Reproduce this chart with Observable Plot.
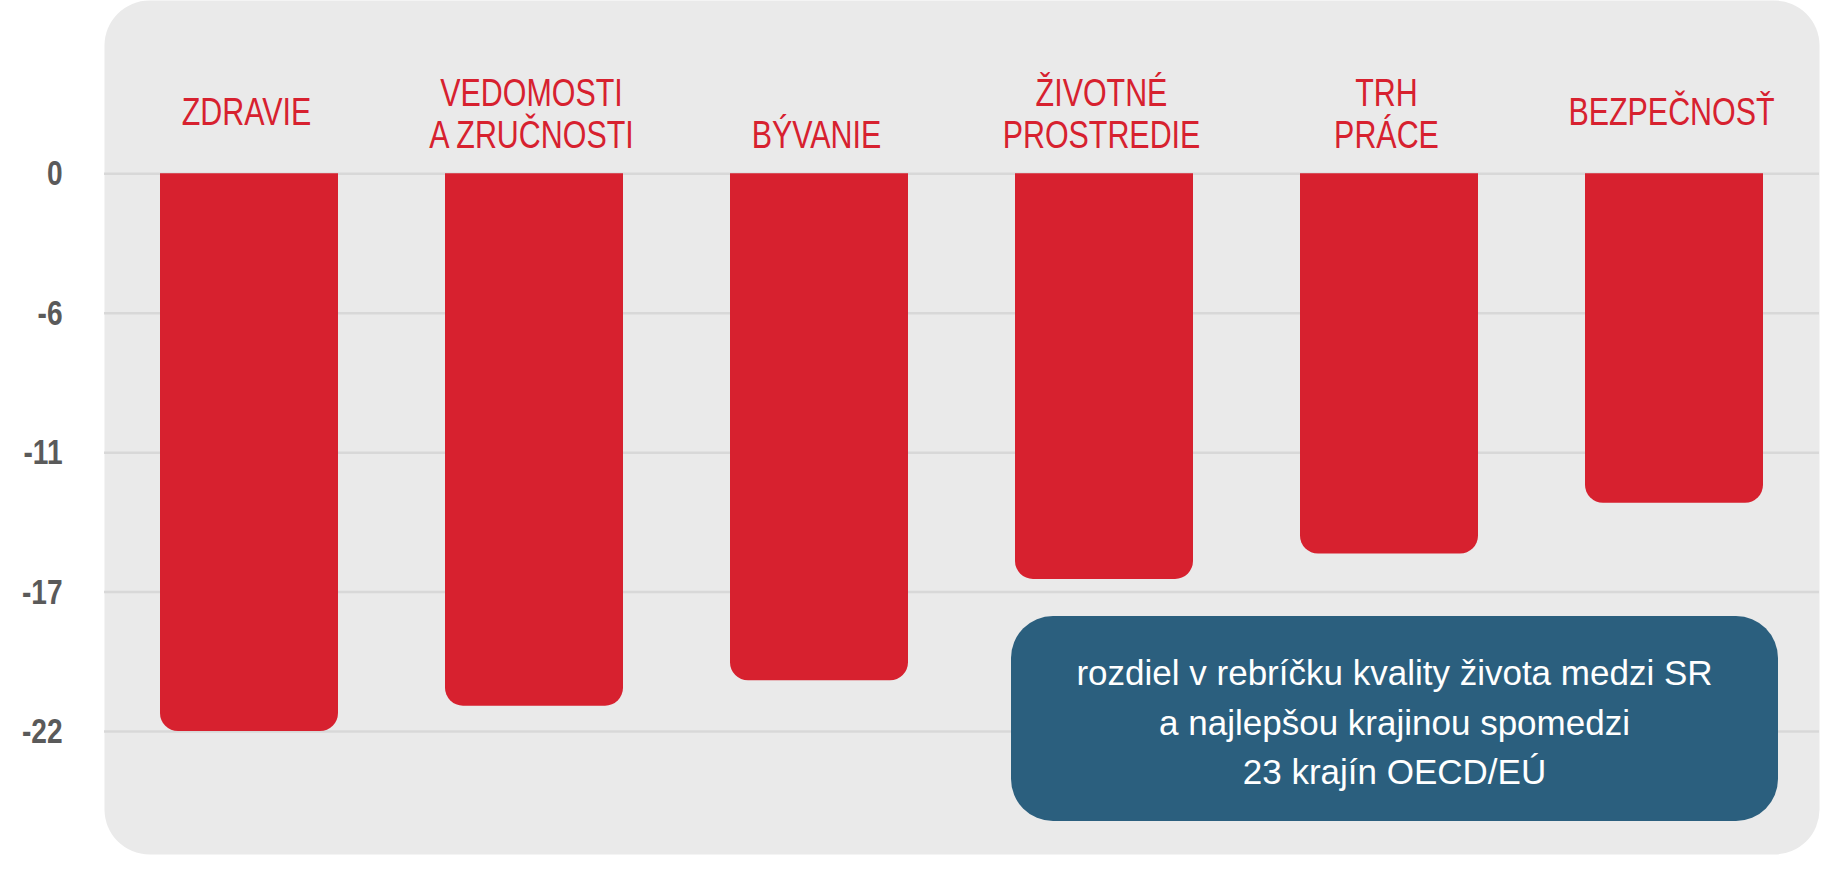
<!DOCTYPE html>
<html>
<head>
<meta charset="utf-8">
<script src="https://cdn.jsdelivr.net/npm/d3@7"></script>
<script src="https://cdn.jsdelivr.net/npm/@observablehq/plot@0.6"></script>
<style>
  body { margin: 0; background: #ffffff; }
  #wrap { position: relative; width: 1822px; height: 882px; }
  #note {
    position: absolute; left: 1011px; top: 616px; width: 767px; height: 205px;
    border-radius: 42px; background: #2b5f7e; color: #ffffff;
    font-family: 'Liberation Sans', Arial, sans-serif;
    font-size: 35px; line-height: 49.5px; text-align: center;
    display: flex; flex-direction: column; justify-content: center;
    box-sizing: border-box; padding-top: 8px;
  }
  #note div { white-space: nowrap; }
</style>
</head>
<body>
<div id="wrap"></div>
<script>
const categories = ["ZDRAVIE", "VEDOMOSTI\nA ZRUČNOSTI", "BÝVANIE", "ŽIVOTNÉ\nPROSTREDIE", "TRH\nPRÁCE", "BEZPEČNOSŤ"];
const values = [-22, -21, -20, -16, -15, -13];
const tickValues = [0, -5.5, -11, -16.5, -22];
const tickLabels = ["0", "-6", "-11", "-17", "-22"];
const noteLines = ["rozdiel v rebríčku kvality života medzi SR", "a najlepšou krajinou spomedzi", "23 krajín OECD/EÚ"];

const centeredLabels = ["ZDRAVIE", "BEZPEČNOSŤ"];
const data = categories.map((c, i) => ({category: c, value: values[i]}));
const font = "'Liberation Sans', Arial, sans-serif";
const red = "#d7212f";

const chart = Plot.plot({
  width: 1822,
  height: 882,
  marginLeft: 104,
  marginRight: 3,
  marginTop: 0,
  marginBottom: 28,
  style: {fontFamily: font, background: "transparent"},
  x: {domain: categories, paddingInner: 0.377, paddingOuter: 0.1885, axis: null},
  y: {domain: [-22, 0], range: [731, 173.3]},
  marks: [
    Plot.frame({fill: "#eaeaea", stroke: "none", rx: 45}),
    Plot.ruleY(tickValues, {stroke: "#d8d8d8", strokeWidth: 2.5}),
    Plot.axisY({
      ticks: tickValues,
      tickFormat: d => tickLabels[tickValues.indexOf(d)],
      tickSize: 0, tickPadding: 42, fontSize: 36, fontWeight: "bold",
      color: "#5a5a5a", label: null
    }),
    Plot.barY(data, {x: "category", y: "value", fill: red, ry2: 18}),
    Plot.text(data.filter(d => !centeredLabels.includes(d.category)), {
      x: "category", y: () => 0, text: "category", lineAnchor: "bottom",
      dx: -3, dy: -26, fontSize: 39, lineHeight: 1.064, fill: red
    }),
    Plot.text(data.filter(d => centeredLabels.includes(d.category)), {
      x: "category", y: () => 0, text: "category", lineAnchor: "bottom",
      dx: -3, dy: -49, fontSize: 39, lineHeight: 1.064, fill: red
    })
  ]
});

// Condense SVG text horizontally about its anchor point (Arial Narrow look)
function condense(nodes, k) {
  nodes.forEach(t => {
    const tr = t.getAttribute("transform") || "";
    const m = /translate\(\s*([-\d.eE]+)/.exec(tr);
    const ax = (parseFloat(t.getAttribute("x")) || 0) + (m ? parseFloat(m[1]) : 0);
    const g = document.createElementNS("http://www.w3.org/2000/svg", "g");
    g.setAttribute("transform", `translate(${ax},0) scale(${k},1) translate(${-ax},0)`);
    t.parentNode.insertBefore(g, t);
    g.appendChild(t);
  });
}
const axisTexts = [...chart.querySelectorAll('g[aria-label="y-axis tick label"] text')];
const labelTexts = [...chart.querySelectorAll('g[aria-label="text"] text')];
condense(axisTexts, 0.78);
condense(labelTexts, 0.78);

const wrap = document.getElementById("wrap");
wrap.appendChild(chart);
const note = document.createElement("div");
note.id = "note";
noteLines.forEach(t => {
  const line = document.createElement("div");
  line.textContent = t;
  note.appendChild(line);
});
wrap.appendChild(note);
</script>
</body>
</html>
